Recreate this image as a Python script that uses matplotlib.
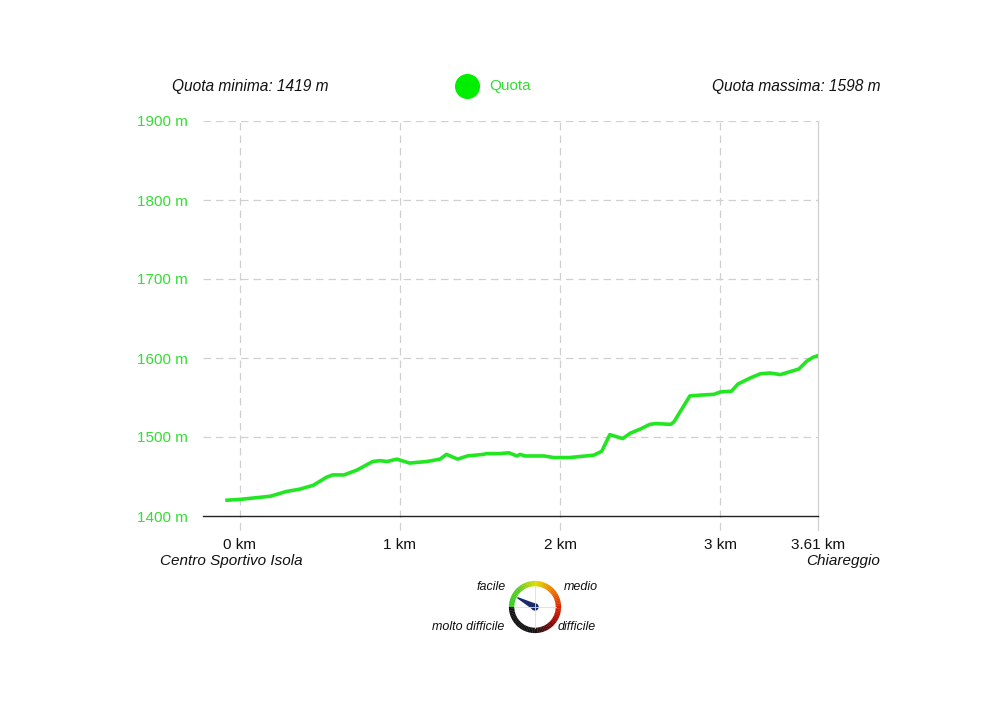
import numpy as np
import matplotlib
matplotlib.use("Agg")
import matplotlib.pyplot as plt
from matplotlib.patches import Wedge, Polygon
from matplotlib.lines import Line2D
from matplotlib.colors import LinearSegmentedColormap

plt.rcParams['font.family'] = ['Liberation Sans', 'DejaVu Sans']

# profile
dist_km = [-0.08, 0.0, 0.19, 0.29, 0.375, 0.46, 0.54, 0.58, 0.65, 0.73, 0.83, 0.875,
           0.92, 0.98, 1.06, 1.17, 1.25, 1.29, 1.36, 1.42, 1.52, 1.54, 1.625, 1.68,
           1.73, 1.75, 1.78, 1.90, 1.96, 2.06, 2.21, 2.26, 2.31, 2.39, 2.44, 2.50,
           2.56, 2.60, 2.69, 2.71, 2.81, 2.875, 2.96, 3.0, 3.07, 3.11, 3.19, 3.25,
           3.31, 3.375, 3.49, 3.54, 3.58, 3.61]
elev_m = [1420, 1421, 1425, 1431, 1434, 1439, 1449, 1452, 1452, 1458, 1469, 1470,
          1469, 1472, 1467, 1469, 1472, 1478, 1472, 1476, 1478, 1479, 1479, 1480,
          1476, 1478, 1476, 1476, 1474, 1474, 1477, 1482, 1503, 1498, 1505, 1510,
          1516, 1517, 1516, 1519, 1552, 1553, 1554, 1557, 1558, 1567, 1575, 1580,
          1581, 1579, 1586, 1596, 1601, 1603]

x_ticks = [0, 1, 2, 3, 3.61]
x_labels = ['0 km', '1 km', '2 km', '3 km', '3.61 km']
y_ticks = [1400, 1500, 1600, 1700, 1800, 1900]
y_labels = ['%d m' % v for v in y_ticks]

start_name = 'Centro Sportivo Isola'
end_name = 'Chiareggio'
quota_min = 1419
quota_max = 1598

green = '#22e622'
label_green = '#33dd33'
grid_c = '#d0d0d0'

W, H = 1000, 706
fig = plt.figure(figsize=(10, 7.06), dpi=100)
ax = fig.add_axes([0.203, 1 - 516 / H, 0.615, (516 - 121) / H])

ax.plot(dist_km, elev_m, color=green, lw=2.6, solid_joinstyle='round', zorder=3)

ax.set_xlim(-0.23, 3.61)
ax.set_ylim(1400, 1900)

for s in ['top', 'right', 'left']:
    ax.spines[s].set_visible(False)
ax.spines['bottom'].set_color('#222222')
ax.spines['bottom'].set_linewidth(1.0)
ax.spines['bottom'].set_zorder(4)

for y in y_ticks[1:]:
    ax.axhline(y, color=grid_c, lw=0.9, ls=(0, (6, 4)), zorder=1)
for x in x_ticks[:-1]:
    ax.axvline(x, ymin=-0.036, ymax=1, color=grid_c, lw=0.9, ls=(0, (6, 4)),
               clip_on=False, zorder=1)
ax.axvline(x_ticks[-1], ymin=-0.036, ymax=1, color=grid_c, lw=0.9,
           clip_on=False, zorder=1)

ax.set_yticks(y_ticks)
ax.set_yticklabels(y_labels, color=label_green, fontsize=11)
ax.set_xticks(x_ticks)
ax.set_xticklabels(x_labels, fontsize=11, color='#111111')
ax.tick_params(axis='y', length=0, pad=11)
ax.tick_params(axis='x', length=0, pad=16)

# header texts
fig.text(172 / W, 1 - 86 / H, 'Quota minima: %d m' % quota_min, fontsize=11.2,
         style='italic', ha='left', va='center', color='#111111')
fig.text(880 / W, 1 - 86 / H, 'Quota massima: %d m' % quota_max, fontsize=11.2,
         style='italic', ha='right', va='center', color='#111111')
fig.add_artist(Line2D([467 / W], [1 - 86 / H], marker='o', markersize=17,
                      color='#00ee00', transform=fig.transFigure))
fig.text(489 / W, 1 - 86 / H, 'Quota', fontsize=11, color=label_green,
         ha='left', va='center')

# start / end names
fig.text(160 / W, 1 - 561 / H, start_name, fontsize=11, style='italic',
         ha='left', va='center', color='#111111')
fig.text(880 / W, 1 - 561 / H, end_name, fontsize=11, style='italic',
         ha='right', va='center', color='#111111')

# difficulty gauge
gx = fig.add_axes([(535 - 30) / W, 1 - (607 + 30) / H, 60 / W, 60 / H])
gx.set_xlim(-1, 1)
gx.set_ylim(-1, 1)
gx.set_aspect('equal')
gx.axis('off')
cmap = LinearSegmentedColormap.from_list(
    'gauge', [(0.0, '#33cc22'), (0.12, '#55cc22'), (0.25, '#dddd00'),
              (0.37, '#ee7700'), (0.5, '#dd2200'), (0.62, '#880000'),
              (0.75, '#111111'), (1.0, '#111111')])
steps = 90
for i in range(steps):
    a0 = 180 - 360 * i / steps
    a1 = 180 - 360 * (i + 1) / steps
    gx.add_patch(Wedge((0, 0), 0.87, a1, a0 + 0.5, width=0.18,
                       color=cmap(i / steps), lw=0))
gx.plot([-0.69, 0.69], [0, 0], color='#dddddd', lw=0.6)
gx.plot([0, 0], [-0.69, 0.69], color='#dddddd', lw=0.6)
ang = np.deg2rad(152)
tip = (0.66 * np.cos(ang), 0.66 * np.sin(ang))
perp = ang + np.pi / 2
gx.add_patch(Polygon([tip,
                      (0.09 * np.cos(perp), 0.09 * np.sin(perp)),
                      (-0.09 * np.cos(perp), -0.09 * np.sin(perp))],
                     closed=True, color='#1a2a6a'))
gx.add_patch(Wedge((0, 0), 0.1, 0, 360, color='#1a2a6a'))

fig.text(506 / W, 1 - 587 / H, 'facile', fontsize=9, style='italic',
         ha='right', va='center', color='#111111')
fig.text(564 / W, 1 - 587 / H, 'medio', fontsize=9, style='italic',
         ha='left', va='center', color='#111111')
fig.text(504 / W, 1 - 627 / H, 'molto difficile', fontsize=9, style='italic',
         ha='right', va='center', color='#111111')
fig.text(558 / W, 1 - 627 / H, 'difficile', fontsize=9, style='italic',
         ha='left', va='center', color='#111111')

fig.savefig('out.png', dpi=100, facecolor='white')
